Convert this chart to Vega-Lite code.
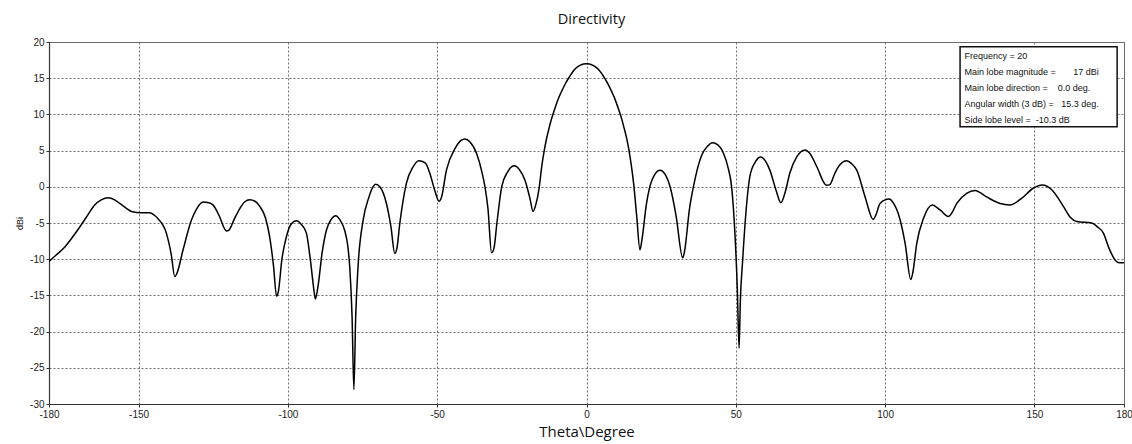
{
  "$schema": "https://vega.github.io/schema/vega-lite/v6.json",
  "width": 1075,
  "height": 362,
  "autosize": "none",
  "padding": {"left": 49, "top": 42, "right": 8, "bottom": 40},
  "background": "white",
  "config": {
    "view": {"stroke": "#666", "strokeWidth": 1},
    "axis": {
      "labelFont": "Liberation Sans",
      "labelFontSize": 10,
      "labelColor": "#222",
      "domainColor": "#333",
      "domainWidth": 1.2,
      "tickColor": "#333",
      "tickSize": 3,
      "gridColor": "#6f6f6f",
      "gridDash": [2, 2],
      "gridWidth": 1,
      "gridOpacity": 1,
      "titleFont": "Open Sans",
      "titleFontWeight": "normal",
      "titleColor": "#111",
      "labelOverlap": false
    }
  },
  "title": {
    "text": "Directivity",
    "font": "Open Sans",
    "fontSize": 14.5,
    "fontWeight": "normal",
    "color": "#111",
    "offset": 10,
    "dx": 5
  },
  "datasets": {
    "curve": [
      {"theta": -180, "dBi": -10.3},
      {"theta": -177, "dBi": -9.2},
      {"theta": -174.7, "dBi": -8.3},
      {"theta": -170.8, "dBi": -6.2},
      {"theta": -167.5, "dBi": -4.2},
      {"theta": -164.7, "dBi": -2.5},
      {"theta": -162.5, "dBi": -1.8},
      {"theta": -160.2, "dBi": -1.5},
      {"theta": -158, "dBi": -1.8},
      {"theta": -156.3, "dBi": -2.3},
      {"theta": -154, "dBi": -3.0},
      {"theta": -152.4, "dBi": -3.4},
      {"theta": -149, "dBi": -3.6},
      {"theta": -146.3, "dBi": -3.6},
      {"theta": -144.5, "dBi": -4.0},
      {"theta": -143.5, "dBi": -4.4},
      {"theta": -140.7, "dBi": -6.4},
      {"theta": -139, "dBi": -9.5},
      {"theta": -137.9, "dBi": -12.4},
      {"theta": -137.2, "dBi": -12.0},
      {"theta": -135.1, "dBi": -8.7},
      {"theta": -132.3, "dBi": -4.6},
      {"theta": -130.5, "dBi": -3.0},
      {"theta": -128.4, "dBi": -2.1},
      {"theta": -126.5, "dBi": -2.2},
      {"theta": -125.1, "dBi": -2.5},
      {"theta": -123, "dBi": -4.0},
      {"theta": -121.2, "dBi": -5.8},
      {"theta": -120.6, "dBi": -6.1},
      {"theta": -119.8, "dBi": -6.0},
      {"theta": -118, "dBi": -4.5},
      {"theta": -116.1, "dBi": -3.0},
      {"theta": -114.5, "dBi": -2.1},
      {"theta": -112.8, "dBi": -1.8},
      {"theta": -111, "dBi": -2.0},
      {"theta": -109.4, "dBi": -2.7},
      {"theta": -107.5, "dBi": -4.3},
      {"theta": -106.1, "dBi": -6.9},
      {"theta": -104.8, "dBi": -11},
      {"theta": -103.8, "dBi": -15.1},
      {"theta": -103.2, "dBi": -14.5},
      {"theta": -102, "dBi": -10},
      {"theta": -100.5, "dBi": -6.9},
      {"theta": -99, "dBi": -5.2},
      {"theta": -97.1, "dBi": -4.7},
      {"theta": -95.5, "dBi": -5.2},
      {"theta": -93.8, "dBi": -6.4},
      {"theta": -92.5, "dBi": -10},
      {"theta": -91.2, "dBi": -14.5},
      {"theta": -90.8, "dBi": -15.5},
      {"theta": -90, "dBi": -14},
      {"theta": -88.5, "dBi": -9},
      {"theta": -87.1, "dBi": -6.0},
      {"theta": -85.5, "dBi": -4.5},
      {"theta": -84.0, "dBi": -4.0},
      {"theta": -82.5, "dBi": -4.6},
      {"theta": -81.0, "dBi": -6.0},
      {"theta": -80, "dBi": -8},
      {"theta": -79.3, "dBi": -11.0},
      {"theta": -78.5, "dBi": -18},
      {"theta": -77.9, "dBi": -28.0},
      {"theta": -77.3, "dBi": -18},
      {"theta": -76.5, "dBi": -11.0},
      {"theta": -74.8, "dBi": -4.6},
      {"theta": -73, "dBi": -1.6},
      {"theta": -71.5, "dBi": 0.0},
      {"theta": -70.6, "dBi": 0.35},
      {"theta": -69.2, "dBi": 0.0},
      {"theta": -67.0, "dBi": -2.3},
      {"theta": -65.5, "dBi": -5.5},
      {"theta": -64.2, "dBi": -9.2},
      {"theta": -63.5, "dBi": -8.5},
      {"theta": -62.5, "dBi": -5},
      {"theta": -60.3, "dBi": 0.5},
      {"theta": -58, "dBi": 2.8},
      {"theta": -56.2, "dBi": 3.6},
      {"theta": -54, "dBi": 3.3},
      {"theta": -52.5, "dBi": 1.9},
      {"theta": -50.8, "dBi": -0.5},
      {"theta": -49.4, "dBi": -2.0},
      {"theta": -48.6, "dBi": -1.5},
      {"theta": -46.9, "dBi": 2.3},
      {"theta": -44, "dBi": 5.3},
      {"theta": -42, "dBi": 6.4},
      {"theta": -40.7, "dBi": 6.6},
      {"theta": -39, "dBi": 6.2},
      {"theta": -36.8, "dBi": 4.6},
      {"theta": -35, "dBi": 2.0},
      {"theta": -34.0, "dBi": 0.0},
      {"theta": -33, "dBi": -3},
      {"theta": -31.8, "dBi": -9.1},
      {"theta": -31, "dBi": -8.5},
      {"theta": -30, "dBi": -5},
      {"theta": -28.4, "dBi": 0.0},
      {"theta": -26.5, "dBi": 2.0},
      {"theta": -24.2, "dBi": 2.9},
      {"theta": -22.5, "dBi": 2.4},
      {"theta": -20.6, "dBi": 0.9},
      {"theta": -19, "dBi": -1.5},
      {"theta": -17.9, "dBi": -3.4},
      {"theta": -17, "dBi": -2.5},
      {"theta": -15.8, "dBi": 0.0},
      {"theta": -15, "dBi": 2.8},
      {"theta": -14.2, "dBi": 4.9},
      {"theta": -13.4, "dBi": 6.6},
      {"theta": -12.6, "dBi": 8.0},
      {"theta": -11.8, "dBi": 9.25},
      {"theta": -11, "dBi": 10.3},
      {"theta": -10.2, "dBi": 11.3},
      {"theta": -9.4, "dBi": 12.2},
      {"theta": -8.6, "dBi": 12.95},
      {"theta": -7.8, "dBi": 13.65},
      {"theta": -7, "dBi": 14.3},
      {"theta": -6, "dBi": 15.0},
      {"theta": -5, "dBi": 15.65},
      {"theta": -4, "dBi": 16.2},
      {"theta": -3, "dBi": 16.55},
      {"theta": -2, "dBi": 16.8},
      {"theta": -1, "dBi": 16.95},
      {"theta": 0, "dBi": 17.0},
      {"theta": 1, "dBi": 16.95},
      {"theta": 2, "dBi": 16.8},
      {"theta": 3, "dBi": 16.55},
      {"theta": 4, "dBi": 16.2},
      {"theta": 5, "dBi": 15.7},
      {"theta": 6, "dBi": 15.05},
      {"theta": 7, "dBi": 14.35},
      {"theta": 7.8, "dBi": 13.7},
      {"theta": 8.6, "dBi": 13.0},
      {"theta": 9.4, "dBi": 12.25},
      {"theta": 10.2, "dBi": 11.35},
      {"theta": 11, "dBi": 10.4},
      {"theta": 11.8, "dBi": 9.35},
      {"theta": 12.6, "dBi": 8.1},
      {"theta": 13.4, "dBi": 6.8},
      {"theta": 14.2, "dBi": 5.1},
      {"theta": 15, "dBi": 3.0},
      {"theta": 15.8, "dBi": 0.4},
      {"theta": 16.8, "dBi": -4},
      {"theta": 17.9, "dBi": -8.7},
      {"theta": 18.5, "dBi": -7.5},
      {"theta": 20.1, "dBi": -2.3},
      {"theta": 22, "dBi": 1.0},
      {"theta": 24.6, "dBi": 2.3},
      {"theta": 26.5, "dBi": 1.6},
      {"theta": 28.0, "dBi": 0.0},
      {"theta": 30, "dBi": -4},
      {"theta": 32.2, "dBi": -9.8},
      {"theta": 32.8, "dBi": -9.0},
      {"theta": 34.5, "dBi": -3.0},
      {"theta": 35.8, "dBi": 0.0},
      {"theta": 38.6, "dBi": 4.4},
      {"theta": 40.5, "dBi": 5.6},
      {"theta": 42.2, "dBi": 6.1},
      {"theta": 44, "dBi": 5.8},
      {"theta": 45.8, "dBi": 4.7},
      {"theta": 47.5, "dBi": 2.5},
      {"theta": 48.6, "dBi": 0.0},
      {"theta": 49.7, "dBi": -6.4},
      {"theta": 50.5, "dBi": -14},
      {"theta": 51.1, "dBi": -22.3},
      {"theta": 51.5, "dBi": -16},
      {"theta": 52.3, "dBi": -10.1},
      {"theta": 53.5, "dBi": -3},
      {"theta": 54.7, "dBi": 1.4},
      {"theta": 56.5, "dBi": 3.4},
      {"theta": 58.4, "dBi": 4.1},
      {"theta": 60, "dBi": 3.5},
      {"theta": 61.4, "dBi": 2.3},
      {"theta": 63.5, "dBi": -0.5},
      {"theta": 65.1, "dBi": -2.2},
      {"theta": 66.5, "dBi": -0.8},
      {"theta": 68.1, "dBi": 1.9},
      {"theta": 70.5, "dBi": 4.2},
      {"theta": 73.2, "dBi": 5.1},
      {"theta": 75, "dBi": 4.5},
      {"theta": 77.1, "dBi": 2.8},
      {"theta": 80.4, "dBi": 0.2},
      {"theta": 81.5, "dBi": 0.3},
      {"theta": 83.2, "dBi": 1.9},
      {"theta": 85, "dBi": 3.1},
      {"theta": 87.1, "dBi": 3.6},
      {"theta": 88.8, "dBi": 3.2},
      {"theta": 90.5, "dBi": 2.3},
      {"theta": 93.3, "dBi": -1.4},
      {"theta": 96.0, "dBi": -4.5},
      {"theta": 97, "dBi": -3.8},
      {"theta": 98.3, "dBi": -2.3},
      {"theta": 101.3, "dBi": -1.7},
      {"theta": 103, "dBi": -2.4},
      {"theta": 104.4, "dBi": -3.7},
      {"theta": 106.7, "dBi": -7.8},
      {"theta": 108.6, "dBi": -12.8},
      {"theta": 109.3, "dBi": -11.8},
      {"theta": 110.6, "dBi": -7.8},
      {"theta": 112.8, "dBi": -4.4},
      {"theta": 115.8, "dBi": -2.5},
      {"theta": 118.4, "dBi": -3.2},
      {"theta": 121.2, "dBi": -4.1},
      {"theta": 122.5, "dBi": -3.5},
      {"theta": 124.0, "dBi": -2.3},
      {"theta": 127.3, "dBi": -0.9},
      {"theta": 130.1, "dBi": -0.5},
      {"theta": 134.0, "dBi": -1.4},
      {"theta": 138.5, "dBi": -2.3},
      {"theta": 141.8, "dBi": -2.5},
      {"theta": 145.7, "dBi": -1.6},
      {"theta": 149.6, "dBi": -0.2},
      {"theta": 152.7, "dBi": 0.25},
      {"theta": 155.8, "dBi": -0.4},
      {"theta": 159.7, "dBi": -2.7},
      {"theta": 162, "dBi": -4.2},
      {"theta": 164.2, "dBi": -4.8},
      {"theta": 169.2, "dBi": -5.0},
      {"theta": 171, "dBi": -5.5},
      {"theta": 173.1, "dBi": -6.4},
      {"theta": 175, "dBi": -8.5},
      {"theta": 177.0, "dBi": -10.1},
      {"theta": 178.5, "dBi": -10.5},
      {"theta": 180, "dBi": -10.5}
    ],
    "box": [
      {"theta": 125.1, "theta2": 177.7, "dBi": 19.35, "dBi2": 8.3}
    ],
    "notes": [
      {"theta": 126.6, "dBi": 18.0, "label": "Frequency = 20"},
      {"theta": 126.6, "dBi": 15.8, "label": "Main lobe magnitude =\u00a0\u00a0\u00a0\u00a0\u00a0\u00a0\u00a017 dBi"},
      {"theta": 126.6, "dBi": 13.6, "label": "Main lobe direction =\u00a0\u00a0\u00a0\u00a00.0 deg."},
      {"theta": 126.6, "dBi": 11.4, "label": "Angular width (3 dB) =\u00a0\u00a0\u00a015.3 deg."},
      {"theta": 126.6, "dBi": 9.2, "label": "Side lobe level =\u00a0\u00a0-10.3 dB"}
    ]
  },
  "encoding": {
    "x": {
      "field": "theta",
      "type": "quantitative",
      "scale": {"domain": [-180, 180], "nice": false, "zero": false},
      "axis": {
        "title": "Theta\\Degree",
        "titleFontSize": 15,
        "titlePadding": 5,
        "values": [-180, -150, -100, -50, 0, 50, 100, 150, 180],
        "labelPadding": 2,
        "labelFlush": false,
        "labelExpr": "toString(datum.value)"
      }
    },
    "y": {
      "field": "dBi",
      "type": "quantitative",
      "scale": {"domain": [-30, 20], "nice": false, "zero": false},
      "axis": {
        "title": "dBi",
        "titleFont": "Liberation Sans",
        "titleFontSize": 9,
        "titlePadding": 5,
        "values": [-30, -25, -20, -15, -10, -5, 0, 5, 10, 15, 20],
        "labelPadding": 2,
        "labelExpr": "toString(datum.value)"
      }
    }
  },
  "layer": [
    {
      "data": {"name": "curve"},
      "mark": {"type": "line", "color": "#000", "strokeWidth": 1.5, "interpolate": "monotone", "clip": true}
    },
    {
      "data": {"name": "box"},
      "mark": {"type": "rect", "fill": "white", "stroke": "#111", "strokeWidth": 1.5},
      "encoding": {
        "x2": {"field": "theta2"},
        "y2": {"field": "dBi2"}
      }
    },
    {
      "data": {"name": "notes"},
      "mark": {"type": "text", "align": "left", "baseline": "middle", "font": "Liberation Sans", "fontSize": 9, "color": "#111"},
      "encoding": {
        "text": {"field": "label"}
      }
    }
  ]
}
